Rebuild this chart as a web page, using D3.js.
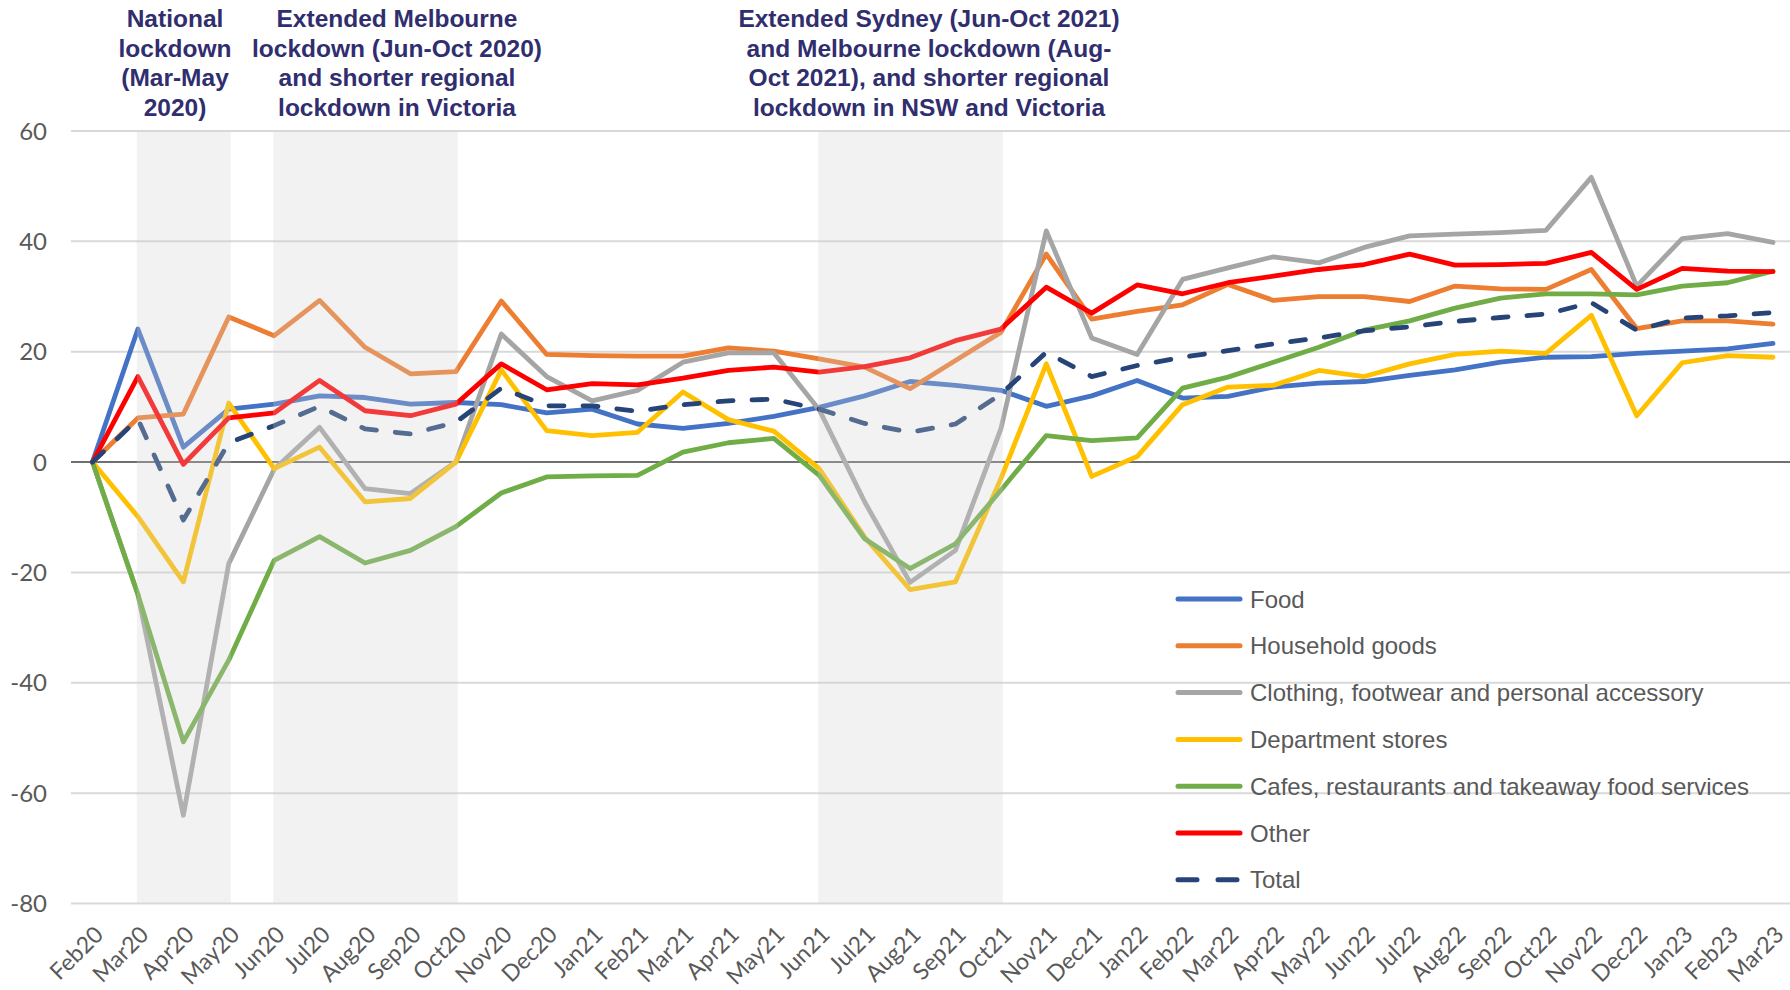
<!DOCTYPE html>
<html>
<head>
<meta charset="utf-8">
<script src="https://cdn.jsdelivr.net/npm/d3@7"></script>
<style>
  body { margin: 0; background: #fff; }
  svg { display: block; }
</style>
</head>
<body>
<svg width="1790" height="990"></svg>
<script>
// Months on the x axis
var months = ["Feb20","Mar20","Apr20","May20","Jun20","Jul20","Aug20","Sep20","Oct20","Nov20","Dec20",
  "Jan21","Feb21","Mar21","Apr21","May21","Jun21","Jul21","Aug21","Sep21","Oct21","Nov21","Dec21",
  "Jan22","Feb22","Mar22","Apr22","May22","Jun22","Jul22","Aug22","Sep22","Oct22","Nov22","Dec22",
  "Jan23","Feb23","Mar23"];

// Series values
var food = [0, 24.1, 2.7, 9.6, 10.5, 12.0, 11.7, 10.5, 10.8, 10.4, 8.9,
  9.6, 6.9, 6.1, 7.0, 8.3, 9.9, 12.0, 14.6, 13.9, 13.0, 10.1, 12.0,
  14.8, 11.6, 11.9, 13.6, 14.3, 14.6, 15.7, 16.7, 18.1, 19.0, 19.1, 19.7,
  20.1, 20.5, 21.5];
var household = [0, 8.0, 8.7, 26.3, 22.9, 29.3, 20.8, 16.0, 16.4, 29.2, 19.5,
  19.3, 19.2, 19.2, 20.7, 20.1, 18.7, 17.2, 13.3, 18.4, 23.5, 37.7, 25.9,
  27.3, 28.5, 32.2, 29.3, 30.0, 30.0, 29.1, 31.9, 31.4, 31.3, 34.9, 24.2,
  25.6, 25.6, 25.0];
var clothing = [0, -24, -64, -18.4, -1.3, 6.3, -4.8, -5.7, 0, 23.2, 15.5,
  11.1, 13.0, 18.1, 19.8, 19.8, 9.5, -7.2, -21.8, -16.0, 6.0, 41.9, 22.5,
  19.5, 33.1, 35.2, 37.2, 36.1, 38.9, 41.0, 41.3, 41.6, 42.0, 51.6, 31.9,
  40.5, 41.4, 39.8];
var department = [0, -9.9, -21.7, 10.7, -1.2, 2.7, -7.2, -6.6, 0, 16.7, 5.7,
  4.8, 5.4, 12.7, 7.7, 5.6, -1.2, -13.6, -23.1, -21.7, -3.0, 17.8, -2.6,
  1.0, 10.4, 13.6, 13.9, 16.6, 15.5, 17.8, 19.5, 20.1, 19.7, 26.6, 8.4,
  18.0, 19.3, 19.0];
var cafes = [0, -24, -50.7, -35.9, -17.8, -13.5, -18.3, -16.0, -11.7, -5.6, -2.7,
  -2.5, -2.4, 1.8, 3.5, 4.3, -2.4, -13.9, -19.3, -14.8, -5.1, 4.8, 3.9,
  4.4, 13.4, 15.4, 18.1, 20.8, 23.9, 25.6, 27.9, 29.7, 30.5, 30.5, 30.3,
  31.9, 32.5, 34.6];
var other = [0, 15.5, -0.4, 8.0, 8.9, 14.8, 9.3, 8.4, 10.5, 17.8, 13.1,
  14.2, 14.0, 15.2, 16.6, 17.2, 16.3, 17.3, 18.9, 22.0, 24.1, 31.7, 27.0,
  32.1, 30.5, 32.5, 33.7, 34.9, 35.8, 37.7, 35.7, 35.8, 36.0, 38.0, 31.3,
  35.1, 34.6, 34.5];
var total = [0, 7.8, -10.5, 3.5, 6.6, 10.1, 6.0, 5.1, 7.2, 13.4, 10.2,
  10.2, 9.2, 10.4, 11.1, 11.4, 9.6, 7.0, 5.4, 6.9, 12.3, 19.9, 15.5,
  17.5, 19.0, 20.2, 21.4, 22.5, 23.8, 24.5, 25.5, 26.2, 26.8, 28.9, 23.9,
  26.1, 26.5, 27.1];

var seriesNames = ["Food", "Household goods", "Clothing, footwear and personal accessory",
  "Department stores", "Cafes, restaurants and takeaway food services", "Other", "Total"];
var seriesValues = [food, household, clothing, department, cafes, other, total];
var seriesColours = ["#4472c4", "#ed7d31", "#a5a5a5", "#ffc000", "#70ad47", "#ff0000", "#264478"];

var yTicks = [60, 40, 20, 0, -20, -40, -60, -80];

// Lockdown periods and their labels
var lockdowns = [["Mar20", "May20"], ["Jun20", "Oct20"], ["Jun21", "Oct21"]];
var lockdownLabels = [
  ["National", "lockdown", "(Mar-May", "2020)"],
  ["Extended Melbourne", "lockdown (Jun-Oct 2020)", "and shorter regional", "lockdown in Victoria"],
  ["Extended Sydney (Jun-Oct 2021)", "and Melbourne lockdown (Aug-", "Oct 2021), and shorter regional", "lockdown in NSW and Victoria"]
];

var svg = d3.select("svg");

// Scales
var x = d3.scalePoint().domain(months).range([92.5, 1773]);
var y = d3.scaleLinear().domain([-80, 60]).range([903.5, 131]);

// Gridlines
svg.append("g")
  .selectAll("line")
  .data(yTicks)
  .enter()
  .append("line")
    .attr("x1", 71)
    .attr("x2", 1790)
    .attr("y1", function(d) { return y(d); })
    .attr("y2", function(d) { return y(d); })
    .style("stroke", function(d) { return d === 0 ? "#404040" : "#d9d9d9"; })
    .style("stroke-width", function(d) { return d === 0 ? 1.6 : 2; });

// Y axis labels
svg.append("g")
  .selectAll("text")
  .data(yTicks)
  .enter()
  .append("text")
    .attr("x", 47)
    .attr("y", function(d) { return y(d); })
    .attr("dy", "0.36em")
    .attr("text-anchor", "end")
    .style("font-family", "Lato, sans-serif")
    .style("font-size", "24px")
    .style("fill", "#595959")
    .text(function(d) { return d; });

// X axis labels, rotated
svg.append("g")
  .selectAll("text")
  .data(months)
  .enter()
  .append("text")
    .attr("transform", function(d) { return "translate(" + (x(d) + 2) + ",926) rotate(-45)"; })
    .attr("dy", "0.62em")
    .attr("text-anchor", "end")
    .style("font-family", "Lato, sans-serif")
    .style("font-size", "23px")
    .style("fill", "#595959")
    .text(function(d) { return d; });

// Lines
var line = d3.line()
  .x(function(d, i) { return x(months[i]); })
  .y(function(d) { return y(d); });

svg.append("g")
  .selectAll("path")
  .data(seriesValues)
  .enter()
  .append("path")
    .attr("d", line)
    .style("fill", "none")
    .style("stroke", function(d, i) { return seriesColours[i]; })
    .style("stroke-width", 4.8)
    .style("stroke-linejoin", "round")
    .style("stroke-linecap", "round")
    .style("stroke-dasharray", function(d, i) { return i === 6 ? "15,19" : null; });

// Lockdown shading sits over the lines, which washes them out a bit
svg.append("g")
  .selectAll("rect")
  .data(lockdowns)
  .enter()
  .append("rect")
    .attr("x", function(d) { return x(d[0]) - 1; })
    .attr("width", function(d) { return x(d[1]) - x(d[0]) + 3; })
    .attr("y", y(60))
    .attr("height", y(-80) - y(60))
    .style("fill", "#cfcfcf")
    .style("opacity", 0.28);

// Lockdown annotations
var notes = svg.append("g")
  .selectAll("text")
  .data(lockdownLabels)
  .enter()
  .append("text")
    .attr("text-anchor", "middle")
    .style("font-family", "'Liberation Sans', Arial, sans-serif")
    .style("font-weight", "bold")
    .style("font-size", "24.5px")
    .style("fill", "#302e6e");

notes.each(function(lines, k) {
  var cx = k === 0 ? 175 : (k === 1 ? 397 : 929);
  d3.select(this).selectAll("tspan")
    .data(lines)
    .enter()
    .append("tspan")
      .attr("x", cx)
      .attr("y", function(d, j) { return 27 + j * 29.7; })
      .text(function(d) { return d; });
});

// Legend
var legend = svg.append("g")
  .selectAll("g")
  .data(seriesNames)
  .enter()
  .append("g")
    .attr("transform", function(d, i) { return "translate(1176," + (599 + i * 46.8) + ")"; });

legend.append("line")
  .attr("x1", 2)
  .attr("x2", 64)
  .style("stroke", function(d, i) { return seriesColours[i]; })
  .style("stroke-width", 5)
  .style("stroke-linecap", "round")
  .style("stroke-dasharray", function(d, i) { return i === 6 ? "19,21" : null; });

legend.append("text")
  .attr("x", 74)
  .attr("dy", "0.36em")
  .style("font-family", "'Liberation Sans', Arial, sans-serif")
  .style("font-size", "24px")
  .style("fill", "#595959")
  .text(function(d) { return d; });
</script>
</body>
</html>
